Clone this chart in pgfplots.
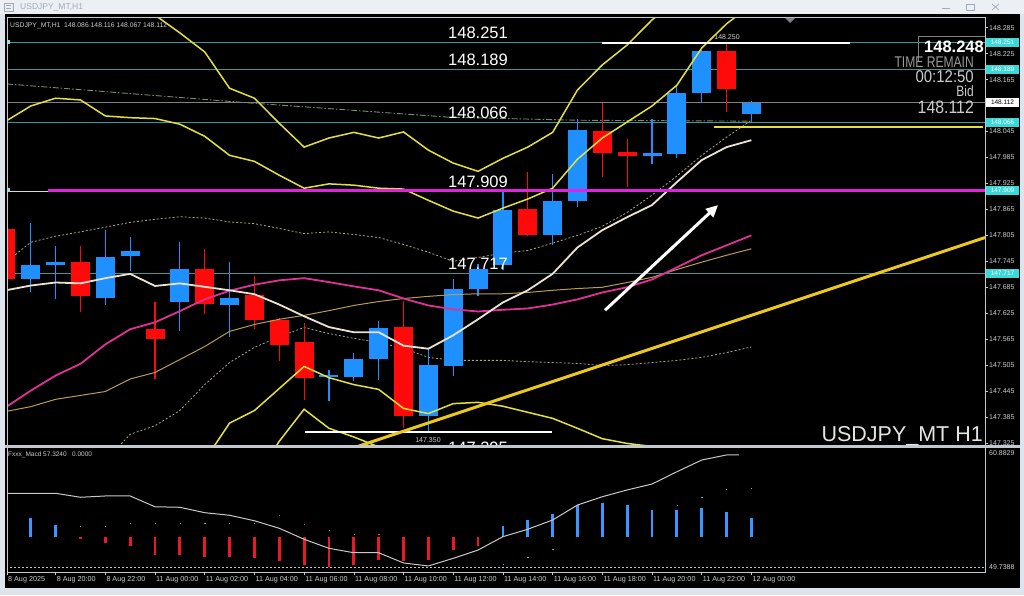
\documentclass[border=0pt]{standalone}
\usepackage{pgfplots}
\pgfplotsset{compat=1.18}
\usepackage{pgfplotstable}
\usepackage{fontspec}
\setmainfont{Liberation Sans}
\usetikzlibrary{arrows.meta}
\usepackage{graphicx}

\definecolor{bull}{RGB}{30,144,255}
\definecolor{bear}{RGB}{255,10,10}
\definecolor{tealln}{RGB}{64,150,150}
\definecolor{mag}{RGB}{225,35,225}
\definecolor{ylw}{RGB}{228,225,60}
\definecolor{gold}{RGB}{235,200,30}
\definecolor{maW}{RGB}{235,226,212}
\definecolor{maM}{RGB}{222,50,150}
\definecolor{maK}{RGB}{185,155,85}
\definecolor{dotl}{RGB}{175,165,135}
\definecolor{frameg}{RGB}{195,200,206}
\definecolor{winbg}{RGB}{222,228,236}
\definecolor{titlebg}{RGB}{236,240,245}
\definecolor{titletx}{RGB}{160,170,182}
\definecolor{cyanbox}{RGB}{60,215,215}
\definecolor{txtg}{RGB}{205,205,205}
\definecolor{dashg}{RGB}{120,140,110}
\definecolor{sigl}{RGB}{200,200,200}
\definecolor{hblue}{RGB}{60,150,255}
\definecolor{hred}{RGB}{235,25,40}
\definecolor{dotc}{RGB}{70,200,200}
\definecolor{dotp}{RGB}{220,70,120}

\pgfplotsset{errbar/.style n args={2}{draw=none, mark=none, forget plot,
  error bars/.cd, y dir=both, y explicit, error mark=none,
  error bar style={line width=#1, draw=#2, solid}}}

% candles: h = hours from 11 Aug 00:00 (weekend skipped)
\pgfplotstableread{
h O H L C
-5 147.706 147.835 147.674 147.737
-4 147.736 147.782 147.659 147.743
-2 147.662 147.817 147.645 147.756
-1 147.757 147.801 147.724 147.770
1 147.652 147.791 147.585 147.728
3 147.645 147.743 147.570 147.660
7 147.477 147.493 147.423 147.483
8 147.479 147.534 147.470 147.520
9 147.521 147.608 147.470 147.593
11 147.390 147.543 147.350 147.507
12 147.503 147.705 147.481 147.683
13 147.680 147.740 147.666 147.728
14 147.736 147.909 147.725 147.865
16 147.807 147.946 147.782 147.886
17 147.884 148.074 147.871 148.048
20 147.990 148.074 147.971 147.996
21 147.993 148.151 147.983 148.135
22 148.135 148.233 148.112 148.231
24 148.086 148.116 148.067 148.112
}\bulltab
\pgfplotstableread{
h O H L C
-6 147.821 147.821 147.636 147.705
-3 147.745 147.782 147.628 147.665
0 147.588 147.652 147.473 147.566
2 147.728 147.774 147.624 147.646
4 147.667 147.713 147.590 147.611
5 147.611 147.616 147.516 147.554
6 147.558 147.604 147.427 147.475
10 147.593 147.655 147.361 147.388
15 147.868 147.952 147.805 147.807
18 148.046 148.112 147.942 147.997
19 148.000 148.029 147.917 147.989
23 148.232 148.250 148.091 148.143
}\beartab
% indicator lines
\pgfplotstableread{
h W M K DU DL A B C D
-6 147.678 147.408 147.398 147.743 nan 148.45 148.069 nan nan
-5 147.689 147.446 147.409 147.789 nan 148.42 148.104 nan nan
-4 147.696 147.481 147.426 147.803 nan 148.40 148.122 nan nan
-3 147.694 147.508 147.435 147.813 147.250 148.38 148.118 nan nan
-2 147.706 147.553 147.444 147.824 147.284 148.36 148.081 nan nan
-1 147.716 147.588 147.473 147.835 147.345 148.335 148.077 147.238 nan
0 147.688 147.604 147.488 147.842 147.365 148.314 148.075 147.261 nan
1 147.694 147.630 147.518 147.848 147.400 148.273 148.062 147.284 nan
2 147.686 147.657 147.548 147.845 147.460 148.229 148.034 147.285 nan
3 147.678 147.677 147.583 147.836 147.511 148.145 147.990 147.371 147.22
4 147.669 147.691 147.599 147.832 147.546 148.122 147.976 147.400 147.24
5 147.645 147.701 147.611 147.821 147.571 148.064 147.944 147.451 147.329
6 147.618 147.706 147.620 147.809 147.592 148.009 147.914 147.502 147.403
7 147.593 147.697 147.631 147.813 147.578 148.030 147.924 147.476 147.359
8 147.581 147.687 147.643 147.807 147.567 148.043 147.921 147.460 147.339
9 147.581 147.678 147.652 147.800 147.557 148.030 147.914 147.449 147.316
10 147.550 147.659 147.659 147.784 147.544 148.044 147.912 147.405 147.28
11 147.543 147.643 147.664 147.766 147.523 148.002 147.886 147.393 nan
12 147.574 147.634 147.668 147.745 147.516 147.972 147.861 147.416 nan
13 147.611 147.629 147.670 147.754 147.516 147.953 147.845 147.419 nan
14 147.650 147.633 147.670 147.764 147.516 147.983 147.868 147.410 nan
15 147.678 147.636 147.673 147.770 147.513 148.009 147.889 147.396 nan
16 147.716 147.645 147.678 147.787 147.511 148.043 147.914 147.382 nan
17 147.777 147.657 147.682 147.805 147.509 148.141 147.981 147.359 nan
18 147.817 147.673 147.685 147.826 147.504 148.199 148.030 147.335 nan
19 147.847 147.685 147.696 147.858 147.506 148.245 148.067 147.324 nan
20 147.875 147.703 147.708 147.898 147.511 148.303 148.104 147.317 nan
21 147.928 147.731 147.726 147.942 147.516 148.349 148.152 147.303 nan
22 147.979 147.759 147.743 147.990 147.523 148.39 148.238 147.29 nan
23 148.009 147.782 147.759 148.032 147.534 148.43 148.294 147.28 nan
24 148.025 147.805 147.774 148.071 147.547 148.47 148.338 147.27 nan
}\indtab
% MACD panel
\pgfplotstableread{
h v
-6 56.77
-5 56.77
-4 56.77
-3 56.40
-2 56.52
-1 56.52
0 55.52
1 55.47
2 54.97
3 54.73
4 54.22
5 53.52
6 52.50
7 51.66
8 51.25
9 51.25
10 50.30
11 50.02
12 50.73
13 51.50
14 52.74
15 53.43
16 54.29
17 55.68
18 56.45
19 57.08
20 57.63
21 58.77
22 59.86
23 60.33
23.5 60.33
}\sigtab
\pgfplotstableread{
h v
-6 55.40
-5 54.48
-4 53.82
14 53.73
15 54.29
16 54.85
17 55.68
18 55.87
19 55.68
20 55.22
21 55.22
22 55.40
23 55.03
24 54.48
}\hbluetab
\pgfplotstableread{
h v
-3 52.55
-2 52.15
-1 51.87
0 51.04
1 51.04
2 50.85
3 50.85
4 50.76
5 50.48
6 50.11
7 49.93
8 50.11
9 50.57
10 50.51
11 50.57
12 51.50
13 51.89
}\hredtab
\pgfplotstableread{
h v
-3 53.73
-2 53.73
-1 54.01
0 54.01
1 54.01
2 54.01
3 54.01
4 54.01
14 50.20
15 50.85
16 51.60
21 55.68
22 56.42
23 57.17
24 57.26
}\cdottab
\pgfplotstableread{
h v
5 54.75
6 53.92
7 53.36
8 52.99
9 52.99
}\pdottab

\begin{document}
\begin{tikzpicture}
\useasboundingbox (0,0) rectangle (1024pt,595pt);
% ---------- window background
\begin{scope}[x=1pt,y=-1pt,yshift=595pt]
  \fill[winbg] (0,0) rectangle (1024,595);
  \fill[titlebg] (0,0) rectangle (1024,14);
  \fill[black] (5,14) rectangle (1020,588);
  \draw[titletx, line width=0.7pt] (4,3) rectangle (13,11);
  \draw[titletx, line width=0.5pt] (6,5.5) -- (11,5.5) (6,8) -- (11,8);
  \node[anchor=west, inner sep=0pt, text=titletx] at (20,7.5) {\fontsize{8.5}{9}\selectfont USDJPY\_MT,H1};
  \draw[titletx, line width=0.7pt] (942,8) -- (950,8);
  \draw[titletx, line width=0.7pt] (966,4) rectangle (974,10);
  \draw[titletx, line width=0.7pt] (992,4) -- (999,10) (992,10) -- (999,4);
\end{scope}
% ---------- main price panel
\begin{axis}[
  at={(7pt,150pt)}, anchor=south west, scale only axis,
  width=978pt, height=427pt,
  xmin=-5.956, xmax=33.40, ymin=147.3204, ymax=148.3074,
  hide axis, clip=true, unbounded coords=jump]
% horizontal objects (background)
\addplot[tealln, line width=1pt] coordinates {(-6,148.251) (34,148.251)};
\addplot[tealln, line width=1pt] coordinates {(-6,148.189) (34,148.189)};
\addplot[tealln, line width=1pt] coordinates {(-6,148.066) (34,148.066)};
\addplot[tealln, line width=1pt] coordinates {(-6,147.717) (34,147.717)};
\addplot[gray, line width=0.8pt] coordinates {(-6,148.112) (34,148.112)};
\addplot[dashg, line width=0.9pt, dash pattern=on 6pt off 2pt on 1.5pt off 2pt] coordinates {(-5.96,148.155) (3.82,148.111) (11.87,148.078) (17.1,148.071) (23.94,148.069)};
% indicator bands (dotted)
\addplot[dotl, line width=0.8pt, dash pattern=on 2pt off 2pt] table[x=h,y=DU] {\indtab};
\addplot[dotl, line width=0.8pt, dash pattern=on 2pt off 2pt] table[x=h,y=DL] {\indtab};
% candles: wicks
\addplot[errbar={1.2pt}{bull}]
  table[x=h, y expr={(\thisrow{H}+\thisrow{L})/2}, y error expr={(\thisrow{H}-\thisrow{L})/2}] {\bulltab};
\addplot[errbar={1.2pt}{bear}]
  table[x=h, y expr={(\thisrow{H}+\thisrow{L})/2}, y error expr={(\thisrow{H}-\thisrow{L})/2}] {\beartab};
% candles: bodies
\addplot[errbar={19pt}{bull}]
  table[x=h, y expr={(\thisrow{O}+\thisrow{C})/2}, y error expr={abs(\thisrow{C}-\thisrow{O})/2}] {\bulltab};
\addplot[errbar={19pt}{bear}]
  table[x=h, y expr={(\thisrow{O}+\thisrow{C})/2}, y error expr={abs(\thisrow{O}-\thisrow{C})/2}] {\beartab};
% moving averages
\addplot[maK, line width=1pt] table[x=h,y=K] {\indtab};
\addplot[maM, line width=1.8pt] table[x=h,y=M] {\indtab};
\addplot[maW, line width=1.8pt] table[x=h,y=W] {\indtab};
% envelopes
\addplot[ylw, line width=1.5pt] table[x=h,y=A] {\indtab};
\addplot[ylw, line width=1.5pt] table[x=h,y=B] {\indtab};
\addplot[ylw, line width=1.5pt] table[x=h,y=C] {\indtab};
\addplot[ylw, line width=1.5pt] table[x=h,y=D] {\indtab};
% objects
\addplot[white!85!black, line width=1pt] coordinates {(-6,147.906) (-1.97,147.906)};
\addplot[mag, line width=3.2pt] coordinates {(-4.31,147.909) (34,147.909)};
\addplot[white, line width=1.5pt] coordinates {(17.99,148.250) (27.97,148.250)};
\addplot[white, line width=1.5pt] coordinates {(6.04,147.350) (15.98,147.350)};
\addplot[ylw, line width=1.8pt] coordinates {(22.5,148.056) (33.3,148.056)};
\addplot[gold, line width=3pt] coordinates {(8,147.314) (33.4,147.800)};
\draw[white, line width=3pt, -{Triangle[length=12pt,width=11pt]}] (axis cs:18.11,147.632) -- (axis cs:22.66,147.875);
\end{axis}
% clipped label below the plot
\begin{scope}[x=1pt,y=-1pt,yshift=595pt]
  \begin{scope}
  \clip (7,18) rectangle (985,446);
  \node[anchor=base, inner sep=0pt, text=white] at (478,453) {\fontsize{16.5}{16.5}\selectfont 147.295};
  \end{scope}
\end{scope}
% ---------- MACD panel
\begin{axis}[
  at={(7pt,26pt)}, anchor=south west, scale only axis,
  width=978pt, height=120pt,
  xmin=-5.956, xmax=33.40, ymin=49.7388, ymax=60.8829,
  hide axis, clip=true]
\addplot[sigl, dash pattern=on 2.5pt off 1.5pt, line width=0.8pt] coordinates {(-6,49.85) (34,49.85)};
\addplot[errbar={2.8pt}{hblue}]
  table[x=h, y expr={(\thisrow{v}+52.71)/2}, y error expr={(\thisrow{v}-52.71)/2}] {\hbluetab};
\addplot[errbar={2.8pt}{hred}]
  table[x=h, y expr={(\thisrow{v}+52.71)/2}, y error expr={(52.71-\thisrow{v})/2}] {\hredtab};
\addplot[sigl, line width=1pt] table[x=h,y=v] {\sigtab};
\addplot[only marks, mark=square*, mark size=1.1pt, mark options={draw=none,fill=dotc}] table[x=h,y=v] {\cdottab};
\addplot[only marks, mark=square*, mark size=1.1pt, mark options={draw=none,fill=dotp}] table[x=h,y=v] {\pdottab};
\end{axis}
% ---------- overlays, frames and texts
\begin{scope}[x=1pt,y=-1pt,yshift=595pt]
  \draw[frameg, line width=1pt] (7,17.5) rectangle (985,445);
  \fill[frameg] (5,444.5) rectangle (1020,447.5);
  \draw[frameg, line width=1pt] (7,447) rectangle (985,572);
  % top marker
  \fill[gray] (785,18) -- (795,18) -- (790,23) -- cycle;
  % header
  \node[anchor=west, inner sep=0pt, text=txtg] at (10,26) {\fontsize{6.8}{7}\selectfont USDJPY\_MT,H1\ \ 148.086 148.116 148.067 148.112};
  \node[anchor=west, inner sep=0pt, text=txtg] at (8,455) {\fontsize{6.5}{7}\selectfont Fxxx\_Macd 57.3240\ \ \ 0.0000};
  \fill[cyanbox!60!white] (6.5,40.5) rectangle (10,44);
  \fill[cyanbox!60!white] (6.5,188.5) rectangle (10,192);
  % big line labels
  \foreach \t/\y in {148.251/39, 148.189/66, 148.066/118.5, 147.909/187.5, 147.717/270}
    \node[anchor=base, inner sep=0pt, text=white] at (478,\y) {\fontsize{16.5}{16.5}\selectfont \t};
  \node[anchor=base, inner sep=0pt, text=txtg] at (727,40) {\fontsize{7}{7}\selectfont 148.250};
  \node[anchor=base, inner sep=0pt, text=txtg] at (428,442) {\fontsize{7}{7}\selectfont 147.350};
  % info panel
  \draw[gray, line width=0.6pt] (918,36) -- (918,62);
  \draw[gray, line width=0.6pt] (918,36) -- (985,36);
  \node[anchor=base east, inner sep=0pt, text=gray!80!white] at (974,68) {\scalebox{0.78}[1]{\fontsize{15.5}{15.5}\selectfont TIME REMAIN}};
  \node[anchor=base east, inner sep=0pt, text=white] at (984,53) {\fontsize{16.5}{16.5}\selectfont\bfseries 148.248};
  \node[anchor=base east, inner sep=0pt, text=txtg] at (974,83) {\scalebox{0.88}[1]{\fontsize{17}{17}\selectfont 00:12:50}};
  \node[anchor=base east, inner sep=0pt, text=txtg] at (974,97) {\scalebox{0.8}[1]{\fontsize{15}{15}\selectfont Bid}};
  \node[anchor=base east, inner sep=0pt, text=txtg] at (974,113.5) {\scalebox{0.88}[1]{\fontsize{18}{18}\selectfont 148.112}};
  \node[anchor=base east, inner sep=0pt, text=white!90!black] at (983,441) {\fontsize{21.5}{21.5}\selectfont USDJPY\_MT H1};
  % right price scale
  \foreach \v/\y in {148.285/27.7, 148.225/53.7, 148.165/79.6, 148.045/131.5, 147.985/157.5, 147.925/183.4, 147.865/209.4, 147.805/235.3, 147.745/261.3, 147.685/287.2, 147.625/313.2, 147.565/339.2, 147.505/365.1, 147.445/391.1, 147.385/417.0, 147.325/443.0} {
    \draw[txtg, line width=0.6pt] (985,\y) -- (988,\y);
    \node[anchor=west, inner sep=0pt, text=txtg] at (989,\y) {\fontsize{7}{7}\selectfont \v};
  }
  \foreach \v/\y in {148.251/42.4, 148.189/69.2, 148.066/122.4, 147.909/190.4, 147.717/273.4} {
    \fill[cyanbox] (986,\y-4.6) rectangle (1019,\y+4.6);
    \node[inner sep=0pt, text=white] at (1002.5,\y) {\fontsize{6.5}{6.5}\selectfont \v};
  }
  \fill[white] (986,97.9) rectangle (1019,107.1);
  \node[inner sep=0pt, text=black] at (1002.5,102.5) {\fontsize{6.5}{6.5}\selectfont 148.112};
  % MACD scale
  \node[anchor=west, inner sep=0pt, text=txtg] at (989,453) {\fontsize{7}{7}\selectfont 60.8829};
  \node[anchor=west, inner sep=0pt, text=txtg] at (989,567.5) {\fontsize{7}{7}\selectfont 49.7388};
  % time axis
  \foreach \x/\t in {7/8 Aug 2025, 55.6/8 Aug 20:00, 105.3/8 Aug 22:00, 155/11 Aug 00:00, 204.7/11 Aug 02:00, 254.4/11 Aug 04:00, 304.1/11 Aug 06:00, 353.8/11 Aug 08:00, 403.5/11 Aug 10:00, 453.2/11 Aug 12:00, 502.9/11 Aug 14:00, 552.6/11 Aug 16:00, 602.3/11 Aug 18:00, 652/11 Aug 20:00, 701.7/11 Aug 22:00, 751.4/12 Aug 00:00} {
    \draw[txtg, line width=0.6pt] (\x,572) -- (\x,575);
    \node[anchor=west, inner sep=0pt, text=txtg] at (\x+1,579.5) {\fontsize{7.2}{7.5}\selectfont \t};
  }
\end{scope}
\end{tikzpicture}
\end{document}
